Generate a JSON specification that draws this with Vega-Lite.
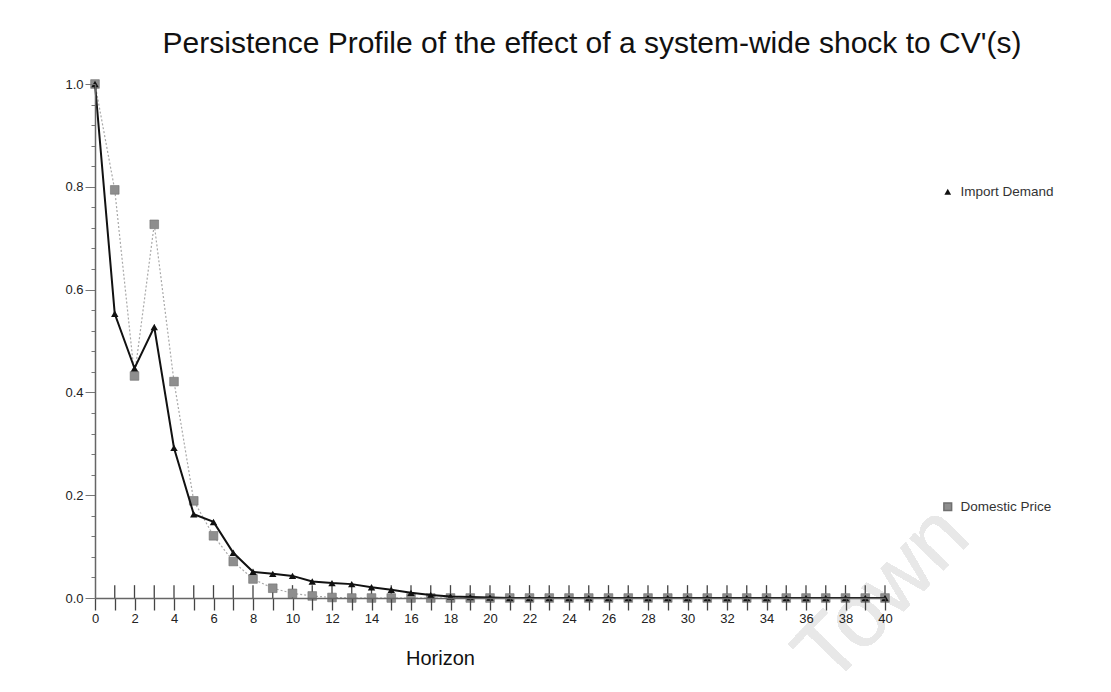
{
  "$schema": "https://vega.github.io/schema/vega-lite/v6.json",
  "width": 790,
  "height": 514,
  "autosize": {"type": "none"},
  "padding": {"left": 95, "top": 84, "right": 226, "bottom": 94},
  "background": "white",
  "config": {
    "view": {"stroke": null},
    "font": "Liberation Sans",
    "axis": {"labelFont": "Liberation Sans", "titleFont": "Liberation Sans", "grid": false}
  },
  "title": {
    "text": "Persistence Profile of the effect of a system-wide shock to CV'(s)",
    "font": "Liberation Sans",
    "fontSize": 30,
    "fontWeight": "normal",
    "color": "#111111",
    "anchor": "middle",
    "dx": 102,
    "offset": 19
  },
  "data": {
    "values": [
      {"h": 0, "series": "Import Demand", "value": 1.0},
      {"h": 1, "series": "Import Demand", "value": 0.553},
      {"h": 2, "series": "Import Demand", "value": 0.447},
      {"h": 3, "series": "Import Demand", "value": 0.527},
      {"h": 4, "series": "Import Demand", "value": 0.292},
      {"h": 5, "series": "Import Demand", "value": 0.163},
      {"h": 6, "series": "Import Demand", "value": 0.148},
      {"h": 7, "series": "Import Demand", "value": 0.088},
      {"h": 8, "series": "Import Demand", "value": 0.051},
      {"h": 9, "series": "Import Demand", "value": 0.047},
      {"h": 10, "series": "Import Demand", "value": 0.043},
      {"h": 11, "series": "Import Demand", "value": 0.032},
      {"h": 12, "series": "Import Demand", "value": 0.029},
      {"h": 13, "series": "Import Demand", "value": 0.027},
      {"h": 14, "series": "Import Demand", "value": 0.021},
      {"h": 15, "series": "Import Demand", "value": 0.016},
      {"h": 16, "series": "Import Demand", "value": 0.010},
      {"h": 17, "series": "Import Demand", "value": 0.006},
      {"h": 18, "series": "Import Demand", "value": 0.003},
      {"h": 19, "series": "Import Demand", "value": 0.002},
      {"h": 20, "series": "Import Demand", "value": 0.001},
      {"h": 21, "series": "Import Demand", "value": 0.0},
      {"h": 22, "series": "Import Demand", "value": 0.0},
      {"h": 23, "series": "Import Demand", "value": 0.0},
      {"h": 24, "series": "Import Demand", "value": 0.0},
      {"h": 25, "series": "Import Demand", "value": 0.0},
      {"h": 26, "series": "Import Demand", "value": 0.0},
      {"h": 27, "series": "Import Demand", "value": 0.0},
      {"h": 28, "series": "Import Demand", "value": 0.0},
      {"h": 29, "series": "Import Demand", "value": 0.0},
      {"h": 30, "series": "Import Demand", "value": 0.0},
      {"h": 31, "series": "Import Demand", "value": 0.0},
      {"h": 32, "series": "Import Demand", "value": 0.0},
      {"h": 33, "series": "Import Demand", "value": 0.0},
      {"h": 34, "series": "Import Demand", "value": 0.0},
      {"h": 35, "series": "Import Demand", "value": 0.0},
      {"h": 36, "series": "Import Demand", "value": 0.0},
      {"h": 37, "series": "Import Demand", "value": 0.0},
      {"h": 38, "series": "Import Demand", "value": 0.0},
      {"h": 39, "series": "Import Demand", "value": 0.0},
      {"h": 40, "series": "Import Demand", "value": 0.0},
      {"h": 0, "series": "Domestic Price", "value": 1.0},
      {"h": 1, "series": "Domestic Price", "value": 0.794},
      {"h": 2, "series": "Domestic Price", "value": 0.432},
      {"h": 3, "series": "Domestic Price", "value": 0.727},
      {"h": 4, "series": "Domestic Price", "value": 0.421},
      {"h": 5, "series": "Domestic Price", "value": 0.189},
      {"h": 6, "series": "Domestic Price", "value": 0.121},
      {"h": 7, "series": "Domestic Price", "value": 0.071},
      {"h": 8, "series": "Domestic Price", "value": 0.037},
      {"h": 9, "series": "Domestic Price", "value": 0.019},
      {"h": 10, "series": "Domestic Price", "value": 0.009},
      {"h": 11, "series": "Domestic Price", "value": 0.004},
      {"h": 12, "series": "Domestic Price", "value": 0.001},
      {"h": 13, "series": "Domestic Price", "value": 0.0},
      {"h": 14, "series": "Domestic Price", "value": 0.0},
      {"h": 15, "series": "Domestic Price", "value": 0.0},
      {"h": 16, "series": "Domestic Price", "value": 0.0},
      {"h": 17, "series": "Domestic Price", "value": 0.0},
      {"h": 18, "series": "Domestic Price", "value": 0.0},
      {"h": 19, "series": "Domestic Price", "value": 0.0},
      {"h": 20, "series": "Domestic Price", "value": 0.0},
      {"h": 21, "series": "Domestic Price", "value": 0.0},
      {"h": 22, "series": "Domestic Price", "value": 0.0},
      {"h": 23, "series": "Domestic Price", "value": 0.0},
      {"h": 24, "series": "Domestic Price", "value": 0.0},
      {"h": 25, "series": "Domestic Price", "value": 0.0},
      {"h": 26, "series": "Domestic Price", "value": 0.0},
      {"h": 27, "series": "Domestic Price", "value": 0.0},
      {"h": 28, "series": "Domestic Price", "value": 0.0},
      {"h": 29, "series": "Domestic Price", "value": 0.0},
      {"h": 30, "series": "Domestic Price", "value": 0.0},
      {"h": 31, "series": "Domestic Price", "value": 0.0},
      {"h": 32, "series": "Domestic Price", "value": 0.0},
      {"h": 33, "series": "Domestic Price", "value": 0.0},
      {"h": 34, "series": "Domestic Price", "value": 0.0},
      {"h": 35, "series": "Domestic Price", "value": 0.0},
      {"h": 36, "series": "Domestic Price", "value": 0.0},
      {"h": 37, "series": "Domestic Price", "value": 0.0},
      {"h": 38, "series": "Domestic Price", "value": 0.0},
      {"h": 39, "series": "Domestic Price", "value": 0.0},
      {"h": 40, "series": "Domestic Price", "value": 0.0}
    ]
  },
  "encoding": {
    "x": {
      "field": "h",
      "type": "quantitative",
      "scale": {"domain": [0, 40], "nice": false, "zero": false},
      "axis": {
        "zindex": 2,
        "title": "Horizon",
        "titleFontSize": 20,
        "titleFontWeight": "normal",
        "titleColor": "#111111",
        "titleX": 345,
        "titleY": 60,
        "titleBaseline": "middle",
        "values": [0,1,2,3,4,5,6,7,8,9,10,11,12,13,14,15,16,17,18,19,20,21,22,23,24,25,26,27,28,29,30,31,32,33,34,35,36,37,38,39,40],
        "labelExpr": "datum.value % 2 == 0 ? datum.label : ''",
        "labelFontSize": 13,
        "labelColor": "#222222",
        "labelPadding": 2,
        "labelFlush": false,
        "labelOverlap": false,
        "tickSize": 12,
        "tickColor": "#444444",
        "tickWidth": 1.3,
        "domainColor": "#666666",
        "domainWidth": 1.5
      }
    },
    "y": {
      "field": "value",
      "type": "quantitative",
      "scale": {"domain": [0, 1], "nice": false},
      "axis": {
        "zindex": 2,
        "title": null,
        "values": [0,0.04,0.08,0.12,0.16,0.2,0.24,0.28,0.32,0.36,0.4,0.44,0.48,0.52,0.56,0.6,0.64,0.68,0.72,0.76,0.8,0.84,0.88,0.92,0.96,1.0],
        "labelExpr": "abs(datum.value * 5 - round(datum.value * 5)) < 0.001 ? format(datum.value, '.1f') : ''",
        "labelFontSize": 13,
        "labelColor": "#222222",
        "labelPadding": 2,
        "labelFlush": false,
        "labelOverlap": false,
        "tickSize": {"condition": {"test": "abs(datum.value * 5 - round(datum.value * 5)) < 0.001", "value": 10}, "value": 4},
        "tickColor": "#777777",
        "domainColor": "#666666",
        "domainWidth": 1.5
      }
    }
  },
  "layer": [
    {
      "mark": {"type": "text", "text": "Town", "angle": -46, "fontSize": 88, "font": "Liberation Sans", "color": "#e8e8e8", "align": "center", "baseline": "middle", "clip": false, "zindex": 0},
      "encoding": {"x": {"datum": 39.9}, "y": {"datum": 0.005}}
    },
    {
      "transform": [{"filter": "datum.series == 'Import Demand' && datum.h >= 1"}],
      "mark": {"type": "rule", "color": "#444444", "strokeWidth": 1.3},
      "encoding": {"y": {"datum": 0}, "y2": {"datum": 0.025}}
    },
    {
      "transform": [{"filter": "datum.series == 'Domestic Price'"}],
      "mark": {"type": "line", "color": "#a8a8a8", "strokeWidth": 1.2, "strokeDash": [2, 2]},
      "encoding": {}
    },
    {
      "transform": [{"filter": "datum.series == 'Domestic Price'"}],
      "mark": {"type": "square", "size": 75, "filled": true, "opacity": 1, "stroke": "#6f6f6f", "strokeWidth": 0.6},
      "encoding": {
        "color": {
          "field": "series",
          "type": "nominal",
          "scale": {"domain": ["Domestic Price"], "range": ["#8e8e8e"]},
          "legend": {
            "title": null,
            "orient": "none",
            "legendX": 846,
            "legendY": 416,
            "padding": 0,
            "symbolType": "square",
            "symbolSize": 60,
            "labelFontSize": 13.5,
            "labelColor": "#333333",
            "labelOffset": 6,
            "labelFont": "Liberation Sans"
          }
        }
      }
    },
    {
      "transform": [{"filter": "datum.series == 'Import Demand'"}],
      "mark": {"type": "line", "color": "#111111", "strokeWidth": 2},
      "encoding": {}
    },
    {
      "transform": [{"filter": "datum.series == 'Import Demand'"}],
      "mark": {"type": "point", "size": 55, "filled": true, "color": "#111111", "opacity": 1},
      "encoding": {
        "shape": {
          "field": "series",
          "type": "nominal",
          "scale": {"domain": ["Import Demand"], "range": ["triangle-up"]},
          "legend": {
            "title": null,
            "orient": "none",
            "legendX": 846,
            "legendY": 101,
            "padding": 0,
            "symbolSize": 45,
            "symbolFillColor": "#111111",
            "symbolStrokeColor": "#111111",
            "labelFontSize": 13.5,
            "labelColor": "#333333",
            "labelOffset": 6,
            "labelFont": "Liberation Sans"
          }
        }
      }
    }
  ]
}
